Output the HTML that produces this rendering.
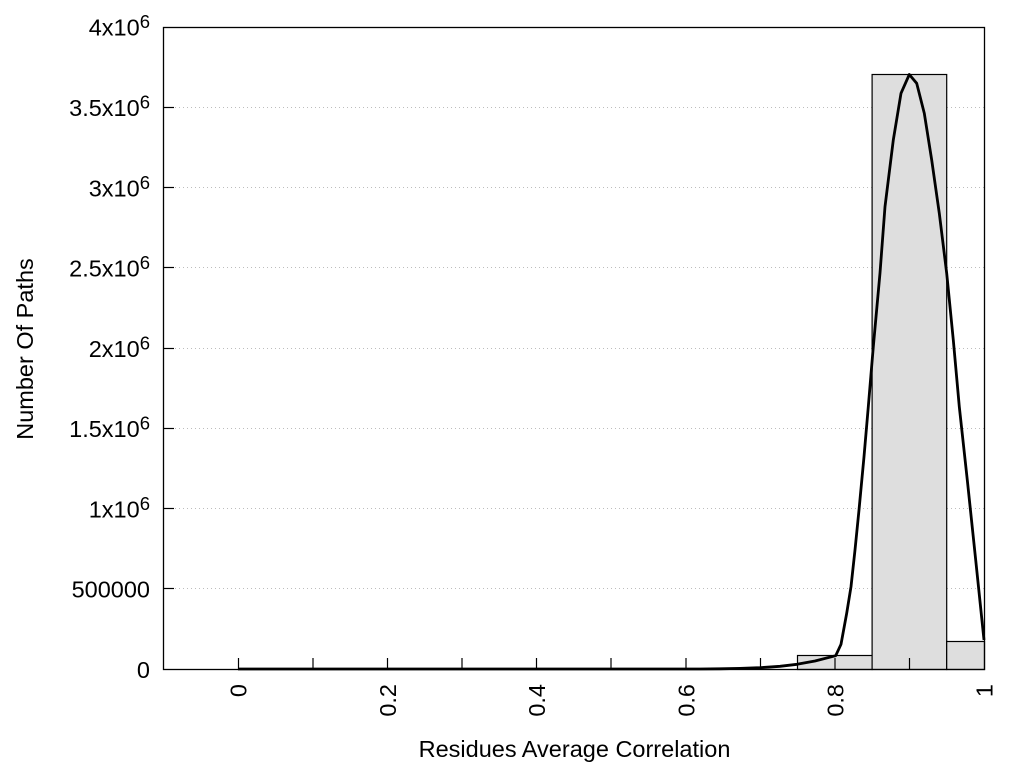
<!DOCTYPE html>
<html>
<head>
<meta charset="utf-8">
<style>
  html, body { margin: 0; padding: 0; background: #ffffff; }
  svg { display: block; }
  text { font-family: "Liberation Sans", Arial, sans-serif; fill: #000; }
</style>
</head>
<body>
<svg width="1024" height="768" viewBox="0 0 1024 768" xmlns="http://www.w3.org/2000/svg">
  <rect x="0" y="0" width="1024" height="768" fill="#ffffff"/>

  <!-- grid lines -->
  <g stroke="#bdbdbd" stroke-width="1" stroke-dasharray="1,3">
    <line x1="175" y1="107.5" x2="984" y2="107.5"/>
    <line x1="175" y1="187.5" x2="984" y2="187.5"/>
    <line x1="175" y1="267.5" x2="984" y2="267.5"/>
    <line x1="175" y1="348.5" x2="984" y2="348.5"/>
    <line x1="175" y1="428.5" x2="984" y2="428.5"/>
    <line x1="175" y1="508.5" x2="984" y2="508.5"/>
    <line x1="175" y1="588.5" x2="984" y2="588.5"/>
  </g>

  <!-- bars -->
  <g fill="#dedede" stroke="#000" stroke-width="1.2">
    <rect x="797.5" y="655.5" width="74.6" height="14"/>
    <rect x="872.1" y="74.5" width="74.6" height="595"/>
    <rect x="946.7" y="641.5" width="37.8" height="28"/>
  </g>

  <!-- curve -->
  <polyline fill="none" stroke="#000" stroke-width="2.8" stroke-linejoin="round"
    points="238,669 700,669 720,668.8 740,668.4 760,667.7 780,666.3 797,664.3 815,661 835.7,655.7 841,644.3 846.7,613.3 851,586.7 855,550 859,510 864,456.7 868.3,406.7 873.3,346.7 880,273 885,206.7 893.3,140 901,93.3 909.3,74.5 916.7,83.3 924.3,113.3 931.7,160 939.3,213.3 946.7,273.3 953.3,340 959.3,406.7 967.4,481 975.7,560 984,640"/>

  <!-- frame -->
  <rect x="163.5" y="27.5" width="821" height="642" fill="none" stroke="#000" stroke-width="1.3"/>

  <!-- y ticks -->
  <g stroke="#000" stroke-width="1.2">
    <line x1="163.5" y1="588.5" x2="174" y2="588.5"/>
    <line x1="163.5" y1="508.5" x2="174" y2="508.5"/>
    <line x1="163.5" y1="428.5" x2="174" y2="428.5"/>
    <line x1="163.5" y1="348.5" x2="174" y2="348.5"/>
    <line x1="163.5" y1="267.5" x2="174" y2="267.5"/>
    <line x1="163.5" y1="187.5" x2="174" y2="187.5"/>
    <line x1="163.5" y1="107.5" x2="174" y2="107.5"/>
  </g>

  <!-- x ticks -->
  <g stroke="#000" stroke-width="1.2">
    <line x1="238.5" y1="669" x2="238.5" y2="658"/>
    <line x1="313" y1="669" x2="313" y2="658"/>
    <line x1="387.5" y1="669" x2="387.5" y2="658"/>
    <line x1="462" y1="669" x2="462" y2="658"/>
    <line x1="536.5" y1="669" x2="536.5" y2="658"/>
    <line x1="611" y1="669" x2="611" y2="658"/>
    <line x1="686" y1="669" x2="686" y2="658"/>
    <line x1="760.5" y1="669" x2="760.5" y2="658"/>
    <line x1="835" y1="669" x2="835" y2="658"/>
    <line x1="909.5" y1="669" x2="909.5" y2="658"/>
  </g>

  <!-- y tick labels -->
  <g font-size="23.5" text-anchor="end">
    <text x="150" y="678">0</text>
    <text x="150" y="597.5">500000</text>
    <text x="150" y="517.3">1x10<tspan font-size="18.5" dy="-7.5">6</tspan></text>
    <text x="150" y="437">1.5x10<tspan font-size="18.5" dy="-7.5">6</tspan></text>
    <text x="150" y="356.8">2x10<tspan font-size="18.5" dy="-7.5">6</tspan></text>
    <text x="150" y="276.5">2.5x10<tspan font-size="18.5" dy="-7.5">6</tspan></text>
    <text x="150" y="196.3">3x10<tspan font-size="18.5" dy="-7.5">6</tspan></text>
    <text x="150" y="116">3.5x10<tspan font-size="18.5" dy="-7.5">6</tspan></text>
    <text x="150" y="35.5">4x10<tspan font-size="18.5" dy="-7.5">6</tspan></text>
  </g>

  <!-- x tick labels (rotated) -->
  <g font-size="23.5" text-anchor="end">
    <text transform="translate(246.5,684) rotate(-90)">0</text>
    <text transform="translate(395.8,684) rotate(-90)">0.2</text>
    <text transform="translate(545,684) rotate(-90)">0.4</text>
    <text transform="translate(694.3,684) rotate(-90)">0.6</text>
    <text transform="translate(843.5,684) rotate(-90)">0.8</text>
    <text transform="translate(992.5,684) rotate(-90)">1</text>
  </g>

  <!-- axis labels -->
  <text font-size="23.5" text-anchor="middle" transform="translate(33,349) rotate(-90)">Number Of Paths</text>
  <text font-size="23.5" text-anchor="middle" x="574.5" y="757">Residues Average Correlation</text>
</svg>
</body>
</html>
